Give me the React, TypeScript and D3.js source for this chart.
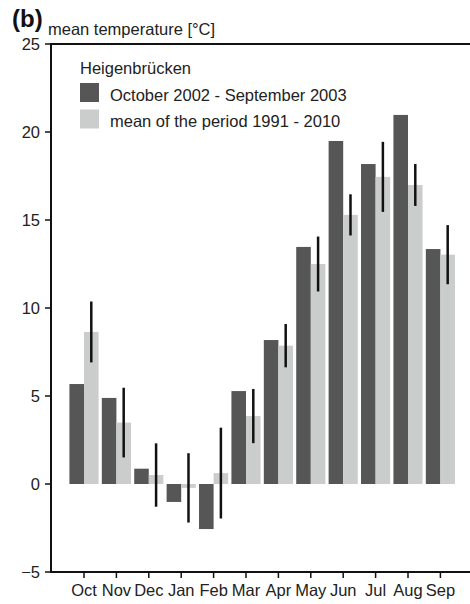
import React from "react";
import * as d3 from "d3";

// Monthly mean air temperature, Heigenbrücken
const months = ["Oct", "Nov", "Dec", "Jan", "Feb", "Mar", "Apr", "May", "Jun", "Jul", "Aug", "Sep"];
const observed = [5.68, 4.89, 0.87, -1.02, -2.56, 5.28, 8.18, 13.47, 19.49, 18.18, 20.97, 13.35];
const longTermMean = [8.64, 3.49, 0.51, -0.22, 0.62, 3.86, 7.86, 12.5, 15.29, 17.45, 16.99, 13.03];
const longTermSd = [1.73, 1.98, 1.8, 1.97, 2.58, 1.54, 1.23, 1.56, 1.17, 1.99, 1.19, 1.68];
const yTicks = [-5, 0, 5, 10, 15, 20, 25];
const seriesKeys = ["obs", "mean"];
const seriesLabels = ["October 2002 - September 2003", "mean of the period 1991 - 2010"];
const legendTitle = "Heigenbrücken";
const yTitle = "mean temperature [°C]";
const panelLabel = "(b)";

const W = 470;
const H = 604;
const FONT = "'Liberation Sans', Arial, Helvetica, sans-serif";
const DARK = "#565656";
const LIGHT = "#cbcdcc";

export default function App() {
  const y = d3.scaleLinear().domain([-5, 25]).range([572, 44]);
  const x = d3
    .scaleBand<string>()
    .domain(months)
    .range([67.8, 456.6])
    .paddingInner(0.1)
    .paddingOuter(0.05);
  const xs = d3.scaleBand<string>().domain(seriesKeys).range([0, x.bandwidth()]);
  const colors = d3.scaleOrdinal<string, string>().domain(seriesKeys).range([DARK, LIGHT]);

  const axisLeft = 51;
  const axisBottom = y(-5);
  const axisTop = y(25);
  const center = (m: string) => (x(m) as number) + x.bandwidth() / 2;

  const barRect = (m: string, key: string, v: number, i: number) => (
    <rect
      key={`${key}-${i}`}
      x={(x(m) as number) + (xs(key) as number)}
      y={y(Math.max(0, v))}
      width={xs.bandwidth()}
      height={Math.abs(y(v) - y(0))}
      fill={colors(key)}
    />
  );

  return (
    <svg
      width={W}
      height={H}
      style={{ position: "absolute", left: 0, top: 0, background: "#fff" }}
      fontFamily={FONT}
    >
      {/* bars */}
      {months.map((m, i) => barRect(m, "obs", observed[i], i))}
      {months.map((m, i) => barRect(m, "mean", longTermMean[i], i))}

      {/* standard deviation of the long-term mean */}
      {months.map((m, i) => {
        const cx = (x(m) as number) + (xs("mean") as number) + xs.bandwidth() / 2;
        return (
          <line
            key={`err-${i}`}
            x1={cx}
            x2={cx}
            y1={y(longTermMean[i] - longTermSd[i])}
            y2={y(longTermMean[i] + longTermSd[i])}
            stroke="#111"
            strokeWidth={2.5}
          />
        );
      })}

      {/* frame */}
      <line x1={axisLeft} x2={axisLeft} y1={axisTop - 1} y2={axisBottom + 1} stroke="#111" strokeWidth={2} />
      <line x1={axisLeft - 1} x2={W} y1={axisTop} y2={axisTop} stroke="#111" strokeWidth={2} />
      <line x1={axisLeft - 1} x2={W} y1={axisBottom} y2={axisBottom} stroke="#111" strokeWidth={2} />

      {/* y axis */}
      {yTicks.map((t) => (
        <g key={`yt-${t}`}>
          <line x1={axisLeft - 6} x2={axisLeft} y1={y(t)} y2={y(t)} stroke="#111" strokeWidth={1.5} />
          <text x={axisLeft - 11} y={y(t) + 6} textAnchor="end" fontSize={16.5} fill="#222">
            {t < 0 ? `\u2212${Math.abs(t)}` : t}
          </text>
        </g>
      ))}

      {/* x axis */}
      {months.map((m) => (
        <g key={`xt-${m}`}>
          <line x1={center(m)} x2={center(m)} y1={axisBottom} y2={axisBottom + 6} stroke="#111" strokeWidth={1.5} />
          <text x={center(m)} y={596} textAnchor="middle" fontSize={16.5} fill="#222">
            {m}
          </text>
        </g>
      ))}

      {/* titles */}
      <text x={12} y={27} fontSize={24} fontWeight="bold" fill="#111">
        {panelLabel}
      </text>
      <text x={48} y={35} fontSize={16.5} fill="#222">
        {yTitle}
      </text>

      {/* legend */}
      <text x={80} y={74} fontSize={16.5} fill="#222">
        {legendTitle}
      </text>
      {seriesKeys.map((k, i) => (
        <g key={`lg-${k}`}>
          <rect x={80} y={83 + i * 26.5} width={19} height={19} fill={colors(k)} />
          <text x={110} y={101 + i * 26} fontSize={16.5} fill="#222">
            {seriesLabels[i]}
          </text>
        </g>
      ))}
    </svg>
  );
}
